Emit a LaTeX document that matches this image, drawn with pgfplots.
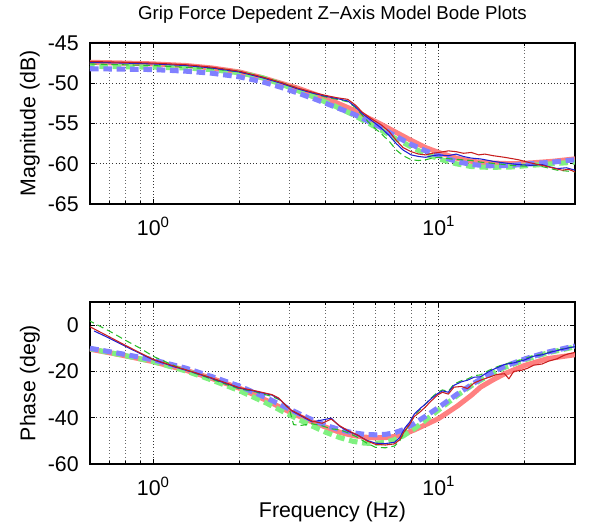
\documentclass[border=0pt]{standalone}
\usepackage{fontspec}
\setmainfont{Liberation Sans}
\usepackage{pgfplots}
\pgfplotsset{compat=1.18}
\definecolor{mred}{RGB}{255,128,128}
\definecolor{mblue}{RGB}{128,128,255}
\definecolor{mgreen}{RGB}{128,240,128}
\definecolor{tred}{RGB}{200,30,30}
\definecolor{tblue}{RGB}{30,30,210}
\definecolor{tgreen}{RGB}{40,190,40}
\tikzset{
  thickred/.style={draw=mred, line width=3.8pt, line join=round},
  thickblue/.style={draw=mblue, line width=3.8pt, dash pattern=on 6.5pt off 3.5pt},
  thickgreen/.style={draw=mgreen, line width=3.8pt, dash pattern=on 6.5pt off 3.5pt, dash phase=3pt},
  thinred/.style={draw=tred, line width=0.8pt, line join=round},
  thinblue/.style={draw=tblue, line width=0.8pt, line join=round},
  thingreen/.style={draw=tgreen, line width=0.8pt, dash pattern=on 5pt off 3pt},
}
\begin{document}
\begin{tikzpicture}
\begin{axis}[name=top, at={(0,0)}, anchor=south west,
  xmode=log, scale only axis, width=363.75pt, height=120.75pt,
  xmin=0.6, xmax=30, ymin=-65, ymax=-45, ytick={-65,-60,-55,-50,-45},
  xtick={1,10}, xticklabels={10\textsuperscript{0},10\textsuperscript{1}},
  minor xtick={0.7,0.8,0.9,2,3,4,5,6,7,8,9,20},
  xmajorgrids, xminorgrids, ymajorgrids,
  grid style={dotted, black!80, line width=0.5pt},
  minor grid style={dotted, black!60, line width=0.5pt},
  major tick length=4pt, minor tick length=2.2pt,
  tick style={black, line width=0.5pt},
  axis line style={line width=0.8pt},
  tick label style={font=\fontsize{16}{19}\selectfont},
  label style={font=\fontsize{16}{19}\selectfont},
  ylabel style={at={(axis description cs:-0.124,0.5)}, anchor=center},
  xticklabel style={yshift=-6pt},
  yticklabel style={xshift=-5pt},
  /pgf/number format/assume math mode=true,
  ylabel={Magnitude (dB)},
  title={Grip Force Depedent Z\textminus Axis Model Bode Plots},
  title style={font=\fontsize{14}{16}\selectfont, at={(axis description cs:0.5,1.125)}, anchor=center},
]
\addplot[thickred] coordinates {(0.6,-47.4)(0.7,-47.45)(0.8,-47.5)(0.9,-47.55)(1.0,-47.6)(1.3,-47.8)(1.6,-48.1)(2.0,-48.6)(2.4,-49.3)(2.8,-50.0)(3.2,-50.6)(3.7,-51.4)(4.3,-52.3)(5.0,-53.3)(5.5,-54.1)(6.2,-55.0)(7.0,-56.0)(8.0,-57.1)(9.0,-58.0)(10,-58.6)(11.5,-59.3)(13,-59.7)(15,-59.9)(18,-60.0)(21,-59.9)(25,-59.7)(30,-59.4)};
\addplot[thickgreen] coordinates {(0.6,-47.9)(0.8,-47.95)(1.0,-48.0)(1.3,-48.1)(1.6,-48.3)(2.0,-48.7)(2.4,-49.3)(2.8,-50.1)(3.2,-50.9)(3.7,-51.8)(4.3,-52.8)(5.0,-53.9)(5.5,-54.7)(6.2,-55.7)(7.0,-56.8)(8.0,-57.9)(9.0,-58.8)(10,-59.4)(11.5,-60.0)(13,-60.35)(15,-60.45)(18,-60.4)(21,-60.2)(25,-60.0)(30,-59.8)};
\addplot[thickblue] coordinates {(0.6,-48.2)(0.8,-48.25)(1.0,-48.3)(1.3,-48.5)(1.6,-48.75)(2.0,-49.2)(2.4,-49.8)(2.8,-50.5)(3.2,-51.2)(3.7,-52.0)(4.3,-52.9)(5.0,-53.8)(5.5,-54.5)(6.2,-55.4)(7.0,-56.5)(8.0,-57.6)(9.0,-58.4)(10,-59.0)(11.5,-59.7)(13,-60.1)(15,-60.25)(18,-60.2)(21,-60.0)(25,-59.8)(30,-59.5)};
\addplot[thingreen] coordinates {(0.6,-47.6)(1.0,-47.8)(1.6,-48.2)(2.0,-48.6)(2.4,-49.2)(2.8,-49.9)(3.2,-50.6)(3.6,-51.2)(4.0,-51.7)(4.4,-52.0)(4.8,-52.3)(5.1,-53.0)(5.4,-54.0)(5.8,-55.2)(6.3,-56.3)(6.7,-57.2)(7.1,-58.3)(7.5,-59.0)(8.0,-59.5)(8.5,-59.6)(9.0,-59.5)(9.5,-59.3)(10,-59.2)(11,-59.4)(12,-59.5)(13,-59.6)(14,-59.8)(16,-60.0)(18,-60.2)(20,-60.3)(22,-60.2)(24,-60.5)(26,-60.8)(30,-61.0)};
\addplot[thinblue] coordinates {(0.6,-47.4)(0.8,-47.5)(1.0,-47.6)(1.3,-47.8)(1.6,-48.1)(2.0,-48.6)(2.4,-49.3)(2.8,-50.0)(3.2,-50.7)(3.6,-51.2)(4.0,-51.6)(4.4,-51.9)(4.8,-52.2)(5.1,-52.9)(5.4,-53.8)(5.8,-54.6)(6.3,-55.6)(6.7,-56.5)(7.1,-57.5)(7.5,-58.3)(8.0,-58.9)(8.5,-59.1)(9.0,-59.2)(9.5,-59.0)(10,-58.9)(10.8,-59.0)(11.5,-58.8)(12.2,-59.1)(13,-59.3)(14,-59.4)(15.5,-59.7)(17,-59.9)(19,-60.1)(21,-60.2)(23,-60.1)(24.5,-60.4)(26,-60.6)(28,-60.5)(30,-60.8)};
\addplot[thinred] coordinates {(0.6,-47.3)(0.7,-47.35)(0.8,-47.4)(1.0,-47.5)(1.3,-47.7)(1.6,-48.0)(2.0,-48.5)(2.4,-49.2)(2.8,-49.9)(3.2,-50.6)(3.6,-51.1)(4.0,-51.5)(4.4,-51.8)(4.8,-52.0)(5.1,-52.7)(5.4,-53.6)(5.8,-54.4)(6.3,-55.2)(6.7,-56.0)(7.1,-57.1)(7.5,-58.0)(8.0,-58.5)(8.5,-58.8)(9.0,-58.9)(9.5,-58.7)(10,-58.6)(10.8,-58.4)(11.5,-58.5)(12.2,-58.7)(13,-58.6)(13.8,-58.9)(14.5,-58.8)(15.5,-59.0)(17,-59.2)(19,-59.5)(21,-59.9)(23,-60.2)(25,-60.5)(27,-60.8)(28.5,-60.7)(30,-61.0)};
\end{axis}
\begin{axis}[name=bot, at={(0,-195pt)}, anchor=south west,
  xmode=log, scale only axis, width=363.75pt, height=121.5pt,
  xmin=0.6, xmax=30, ymin=-60, ymax=10, ytick={-60,-40,-20,0},
  xtick={1,10}, xticklabels={10\textsuperscript{0},10\textsuperscript{1}},
  minor xtick={0.7,0.8,0.9,2,3,4,5,6,7,8,9,20},
  xmajorgrids, xminorgrids, ymajorgrids,
  grid style={dotted, black!80, line width=0.5pt},
  minor grid style={dotted, black!60, line width=0.5pt},
  major tick length=4pt, minor tick length=2.2pt,
  tick style={black, line width=0.5pt},
  axis line style={line width=0.8pt},
  tick label style={font=\fontsize{16}{19}\selectfont},
  label style={font=\fontsize{16}{19}\selectfont},
  ylabel style={at={(axis description cs:-0.124,0.5)}, anchor=center},
  xlabel style={at={(axis description cs:0.5,-0.296)}, anchor=center},
  xticklabel style={yshift=-6pt},
  yticklabel style={xshift=-5pt},
  /pgf/number format/assume math mode=true,
  ylabel={Phase (deg)}, xlabel={Frequency (Hz)},
]
\addplot[thickred] coordinates {(0.6,-10.4)(0.7,-11.9)(0.8,-13.3)(0.9,-14.6)(1.0,-15.8)(1.3,-19.5)(1.6,-23.0)(2.0,-27.2)(2.5,-32.6)(3.0,-37.5)(3.5,-41.2)(4.0,-44.0)(4.5,-46.3)(5.0,-47.7)(5.5,-48.4)(6.0,-48.7)(6.5,-48.6)(7.0,-48.1)(7.5,-47.2)(8.2,-45.3)(9.0,-43.0)(10,-40.3)(11.6,-35.0)(13,-30.3)(14,-26.8)(15.5,-23.6)(17,-21.0)(20,-17.4)(24,-14.5)(30,-12.8)};
\addplot[thickgreen] coordinates {(0.6,-10.2)(0.8,-13.2)(1.0,-15.8)(1.3,-19.8)(1.6,-23.7)(2.0,-28.3)(2.5,-33.8)(3.0,-38.8)(3.5,-42.9)(4.0,-46.2)(4.5,-48.6)(5.0,-50.2)(5.5,-51.0)(6.0,-51.1)(6.5,-50.6)(7.0,-49.5)(7.5,-47.9)(8.2,-44.8)(9.0,-41.0)(10,-36.6)(11.6,-30.4)(13,-26.2)(14,-23.8)(15.5,-20.8)(17,-18.3)(20,-15.0)(24,-12.0)(30,-9.4)};
\addplot[thickblue] coordinates {(0.6,-10.0)(0.8,-12.7)(1.0,-15.0)(1.3,-18.6)(1.6,-22.2)(2.0,-26.3)(2.5,-31.5)(3.0,-36.3)(3.5,-40.2)(4.0,-43.2)(4.5,-45.2)(5.0,-46.5)(5.5,-47.2)(6.0,-47.4)(6.5,-47.2)(7.0,-46.5)(7.5,-45.2)(8.2,-42.5)(9.0,-39.3)(10,-35.5)(11.6,-29.8)(13,-25.8)(14,-23.3)(15.5,-20.3)(17,-17.8)(20,-14.6)(24,-11.7)(30,-9.0)};
\addplot[thingreen] coordinates {(0.59,2.2)(0.7,-2.5)(0.8,-6.6)(0.9,-10.0)(1.0,-13.5)(1.2,-17.8)(1.4,-20.8)(1.6,-23.3)(1.8,-25.6)(2.0,-27.5)(2.3,-29.0)(2.6,-30.8)(2.8,-32.5)(3.0,-36.5)(3.1,-43.0)(3.3,-43.3)(3.6,-42.6)(3.9,-43.5)(4.2,-44.8)(4.5,-45.2)(4.8,-46.5)(5.2,-48.5)(5.6,-51.0)(6.0,-52.8)(6.5,-53.0)(7.0,-52.2)(7.3,-50.0)(7.6,-46.0)(7.9,-43.0)(8.2,-39.0)(8.6,-36.5)(8.9,-34.5)(9.4,-31.5)(9.9,-29.0)(10.3,-28.0)(10.8,-28.6)(11.3,-25.5)(12.0,-24.0)(12.6,-23.3)(13.3,-21.8)(14.0,-21.5)(15.0,-19.5)(16.0,-18.0)(17.0,-16.8)(18.5,-15.8)(20,-14.5)(21.5,-13.2)(23,-12.5)(25,-11.3)(27,-10.3)(30,-9.3)};
\addplot[thinblue] coordinates {(0.62,-2.5)(0.7,-5.6)(0.8,-9.2)(0.9,-12.3)(1.0,-15.0)(1.2,-18.2)(1.4,-20.6)(1.6,-23.0)(1.8,-25.2)(2.0,-27.2)(2.3,-28.7)(2.6,-30.2)(2.75,-31.8)(2.9,-34.3)(3.05,-37.0)(3.3,-39.3)(3.6,-41.8)(3.9,-41.0)(4.2,-40.2)(4.5,-43.8)(4.8,-45.8)(5.2,-47.6)(5.6,-49.8)(6.0,-51.0)(6.5,-51.2)(7.0,-50.6)(7.3,-48.6)(7.6,-44.5)(7.9,-42.0)(8.2,-38.5)(8.6,-36.0)(8.9,-34.5)(9.4,-31.8)(9.9,-29.6)(10.3,-28.4)(10.8,-29.0)(11.3,-26.0)(12.0,-24.5)(12.6,-23.8)(13.3,-22.5)(14.0,-22.3)(15.0,-20.0)(16.0,-18.4)(17.0,-17.0)(18.5,-16.2)(20,-15.0)(21.5,-13.4)(23,-12.8)(25,-11.5)(27,-10.5)(28.5,-9.8)(30,-9.3)};
\addplot[thinred] coordinates {(0.6,-0.7)(0.7,-5.0)(0.8,-8.8)(0.9,-12.0)(1.0,-14.8)(1.2,-18.0)(1.4,-20.5)(1.6,-22.8)(1.8,-25.0)(2.0,-27.0)(2.3,-28.5)(2.6,-30.0)(2.75,-31.5)(2.9,-34.5)(3.05,-36.8)(3.3,-39.0)(3.6,-41.5)(3.9,-42.4)(4.2,-40.6)(4.5,-43.5)(4.8,-45.5)(5.2,-47.5)(5.6,-50.0)(6.0,-51.5)(6.5,-51.8)(7.0,-51.3)(7.3,-49.5)(7.6,-45.5)(7.9,-43.0)(8.2,-39.5)(8.6,-37.5)(8.9,-35.8)(9.4,-32.8)(9.9,-30.2)(10.3,-29.0)(10.8,-29.8)(11.3,-26.8)(12.0,-26.5)(12.6,-27.4)(13.3,-25.0)(14.0,-23.8)(15.0,-22.5)(16.0,-21.3)(17.0,-21.0)(17.6,-23.2)(18.3,-20.0)(19.5,-19.5)(20.5,-18.6)(21.5,-17.3)(23.0,-16.8)(24.2,-15.6)(26.0,-14.5)(27.5,-13.0)(28.5,-12.4)(30,-11.8)};
\end{axis}
\useasboundingbox (-67.5pt,-242.25pt) rectangle (375pt,153pt);
\end{tikzpicture}
\end{document}
